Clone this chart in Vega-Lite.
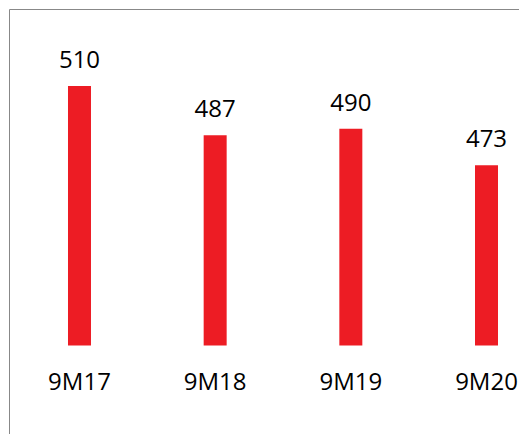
{
  "$schema": "https://vega.github.io/schema/vega-lite/v6.json",
  "width": 510,
  "height": 425,
  "autosize": {"type": "none"},
  "padding": {"left": 9, "top": 9, "right": 0, "bottom": 0},
  "background": "white",
  "config": {"view": {"stroke": null}, "font": "Open Sans"},
  "data": {"values": [
    {"period": "9M17", "value": 510},
    {"period": "9M18", "value": 487},
    {"period": "9M19", "value": 490},
    {"period": "9M20", "value": 473}
  ]},
  "resolve": {"axis": {"x": "independent"}},
  "layer": [
    {
      "mark": {"type": "bar", "color": "#ED1C24"},
      "encoding": {
        "x": {
          "field": "period", "type": "nominal", "sort": null,
          "scale": {"paddingInner": 0.8305, "paddingOuter": 0.2948, "align": 0.7375, "round": false},
          "axis": null
        },
        "y": {"field": "value", "type": "quantitative", "scale": {"domain": [347.4, 546], "zero": false, "nice": false},
              "axis": {"orient": "left", "title": null, "labels": false, "ticks": false, "grid": false, "domain": true, "domainColor": "#888888", "domainWidth": 1}},
        "y2": {"datum": 388.7}
      }
    },
    {
      "mark": {"type": "text", "dy": -18, "baseline": "alphabetic", "fontSize": 24, "color": "#000000", "font": "Open Sans"},
      "encoding": {
        "x": {
          "field": "period", "type": "nominal", "sort": null,
          "axis": {"title": null, "orient": "top", "labels": false, "ticks": false, "grid": false, "domain": true, "domainColor": "#888888", "domainWidth": 1}
        },
        "y": {"field": "value", "type": "quantitative"},
        "text": {"field": "value", "type": "quantitative"}
      }
    },
    {
      "mark": {"type": "text", "baseline": "alphabetic", "align": "center", "fontSize": 24, "color": "#000000", "font": "Open Sans"},
      "encoding": {
        "x": {"field": "period", "type": "nominal", "sort": null, "axis": null},
        "y": {"datum": 368},
        "text": {"field": "period", "type": "nominal"}
      }
    }
  ]
}
